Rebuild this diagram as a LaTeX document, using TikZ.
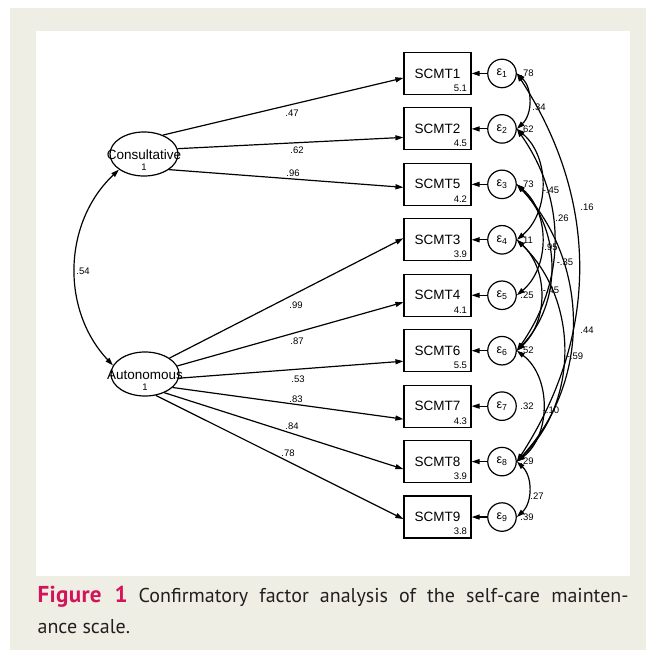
\documentclass[tikz,border=0pt]{standalone}
\usepackage{fontspec}
\setmainfont{Liberation Sans}
\newfontfamily\capfont{PT Sans}
\newfontfamily\figfont[LetterSpace=1.5]{PT Sans}
\usepackage{xcolor}
\usetikzlibrary{arrows.meta}
\usetikzlibrary{shapes.geometric}
\usetikzlibrary{calc}
\definecolor{pagebeige}{HTML}{EFEEE4}
\definecolor{figred}{HTML}{D4145A}
\definecolor{captext}{HTML}{231F20}

\begin{document}
\begin{tikzpicture}[x=1pt, y=-1pt, line width=1.2pt]
\tikzset{latent/.style={draw, ellipse, minimum width=68pt, minimum height=44pt, inner sep=0pt},
  observed/.style={draw, rectangle, minimum width=67pt, minimum height=42pt, inner sep=0pt, font=\fontsize{13.5}{14}\selectfont},
  errterm/.style={draw, circle, minimum size=28.5pt, inner sep=0pt, font=\fontsize{12.5}{12}\selectfont},
  lattext/.style={inner sep=0pt, font=\fontsize{13.5}{14}\selectfont},
  valtext/.style={inner sep=1pt, font=\fontsize{9.5}{9.5}\selectfont}}
\tikzstyle{pointer} = [-{Triangle[length=8pt,width=5pt]}]
\tikzstyle{twoway} = [{Triangle[length=8pt,width=5pt]}-{Triangle[length=8pt,width=5pt]}]
\useasboundingbox (0,0) rectangle (656,655);
\fill[pagebeige] (10,8) rectangle (646,650);
\fill[white] (36,31) rectangle (630,576);

% indicators and their errors
\foreach \nm/\mv/\ev [count=\i] in {1/5.1/.78, 2/4.5/.62, 5/4.2/.73, 3/3.9/.11, 4/4.1/.25, 6/5.5/.52, 7/4.3/.32, 8/3.9/.29, 9/3.8/.39} {
  \node[observed] (s\i) at (437.5,18+55.45*\i) {SCMT\nm};
  \node[valtext, anchor=south east] (m\i) at ([xshift=-3pt,yshift=2pt]s\i.south east) {\mv};
  \node[errterm] (e\i) at (502,18+55.45*\i) {ε\textsubscript{\i}};
  \node[valtext, anchor=west] (r\i) at ([xshift=2pt]e\i.east) {\ev};
  \draw[pointer] (e\i) -- (s\i);
}

% factors
\node[latent] (cons) at (144,154) {};
\node[lattext] (consname) at ([yshift=-1pt]cons.center) {Consultative};
\node[valtext] (consvar) at ([yshift=-13pt]cons.center) {1};
\node[latent] (auto) at (145,374) {};
\node[lattext] (autoname) at ([yshift=-1pt]auto.center) {Autonomous};
\node[valtext] (autovar) at ([yshift=-13pt]auto.center) {1};

\draw[twoway] (cons.212) to[bend right=45] (auto.165);
\node[valtext] (c12) at (83,271) {.54};

% loadings
\draw[pointer] (cons.45) -- ([yshift=-4.5pt]s1.west);
\draw[pointer] (cons.9) -- ([yshift=-8.5pt]s2.west);
\draw[pointer] (cons.-32) -- ([yshift=-3pt]s3.west);
\draw[pointer] (auto.33) -- ([yshift=1.5pt]s4.west);
\draw[pointer] (auto.14) -- ([yshift=-7pt]s5.west);
\draw[pointer] (auto.-7) -- ([yshift=-10.5pt]s6.west);
\draw[pointer] (auto.-26) -- ([yshift=-13pt]s7.west);
\draw[pointer] (auto.-44) -- ([yshift=-7.5pt]s8.west);
\draw[pointer] (auto.-63) -- ([yshift=-2pt]s9.west);
\foreach \w/\px/\py [count=\k] in {.47/292/113, .62/297/150, .96/293/173, .99/296/305, .87/297/341, .53/298/379, .83/296/399, .84/292/426, .78/288/453}
  \node[valtext] (w\k) at (\px,\py) {\w};

% error covariances
\draw[twoway] (e1.east) to[bend left=47] (e2.east);
\draw[twoway] (e1.east) to[bend left=33] (e8.east);
\draw[twoway] (e2.east) to[bend left=50] (e4.east);
\draw[twoway] (e2.east) to[bend left=35] (e6.east);
\draw[twoway] (e3.east) to[bend left=50] (e5.east);
\draw[twoway] (e3.east) to[bend left=44] (e6.east);
\draw[twoway] (e3.east) to[bend left=43] (e8.east);
\draw[twoway] (e4.east) to[bend left=47] (e6.east);
\draw[twoway] (e4.east) to[bend left=46] (e8.east);
\draw[twoway] (e6.east) to[bend left=53] (e8.east);
\draw[twoway] (e8.east) to[bend left=47] (e9.east);
\foreach \w/\px/\py [count=\k] in {.34/539/107, .16/587/207, -.45/551/190, .26/562/218, .95/551/247, -.35/565/262, -.45/551/290, .44/587/330, -.59/575/356, -.10/551/410, .27/537/496}
  \node[valtext] (k\k) at (\px,\py) {\w};

% caption
\node[anchor=north west, inner sep=0pt, align=left, text=captext,
  font=\capfont\fontsize{20}{31}\selectfont] (cap) at (37,586)
  {\makebox[591pt][s]{{\figfont\fontsize{23}{31}\selectfont\bfseries\color{figred}Figure 1} Confirmatory factor analysis of the self-care mainten-}\\ ance scale.};
\end{tikzpicture}
\end{document}
